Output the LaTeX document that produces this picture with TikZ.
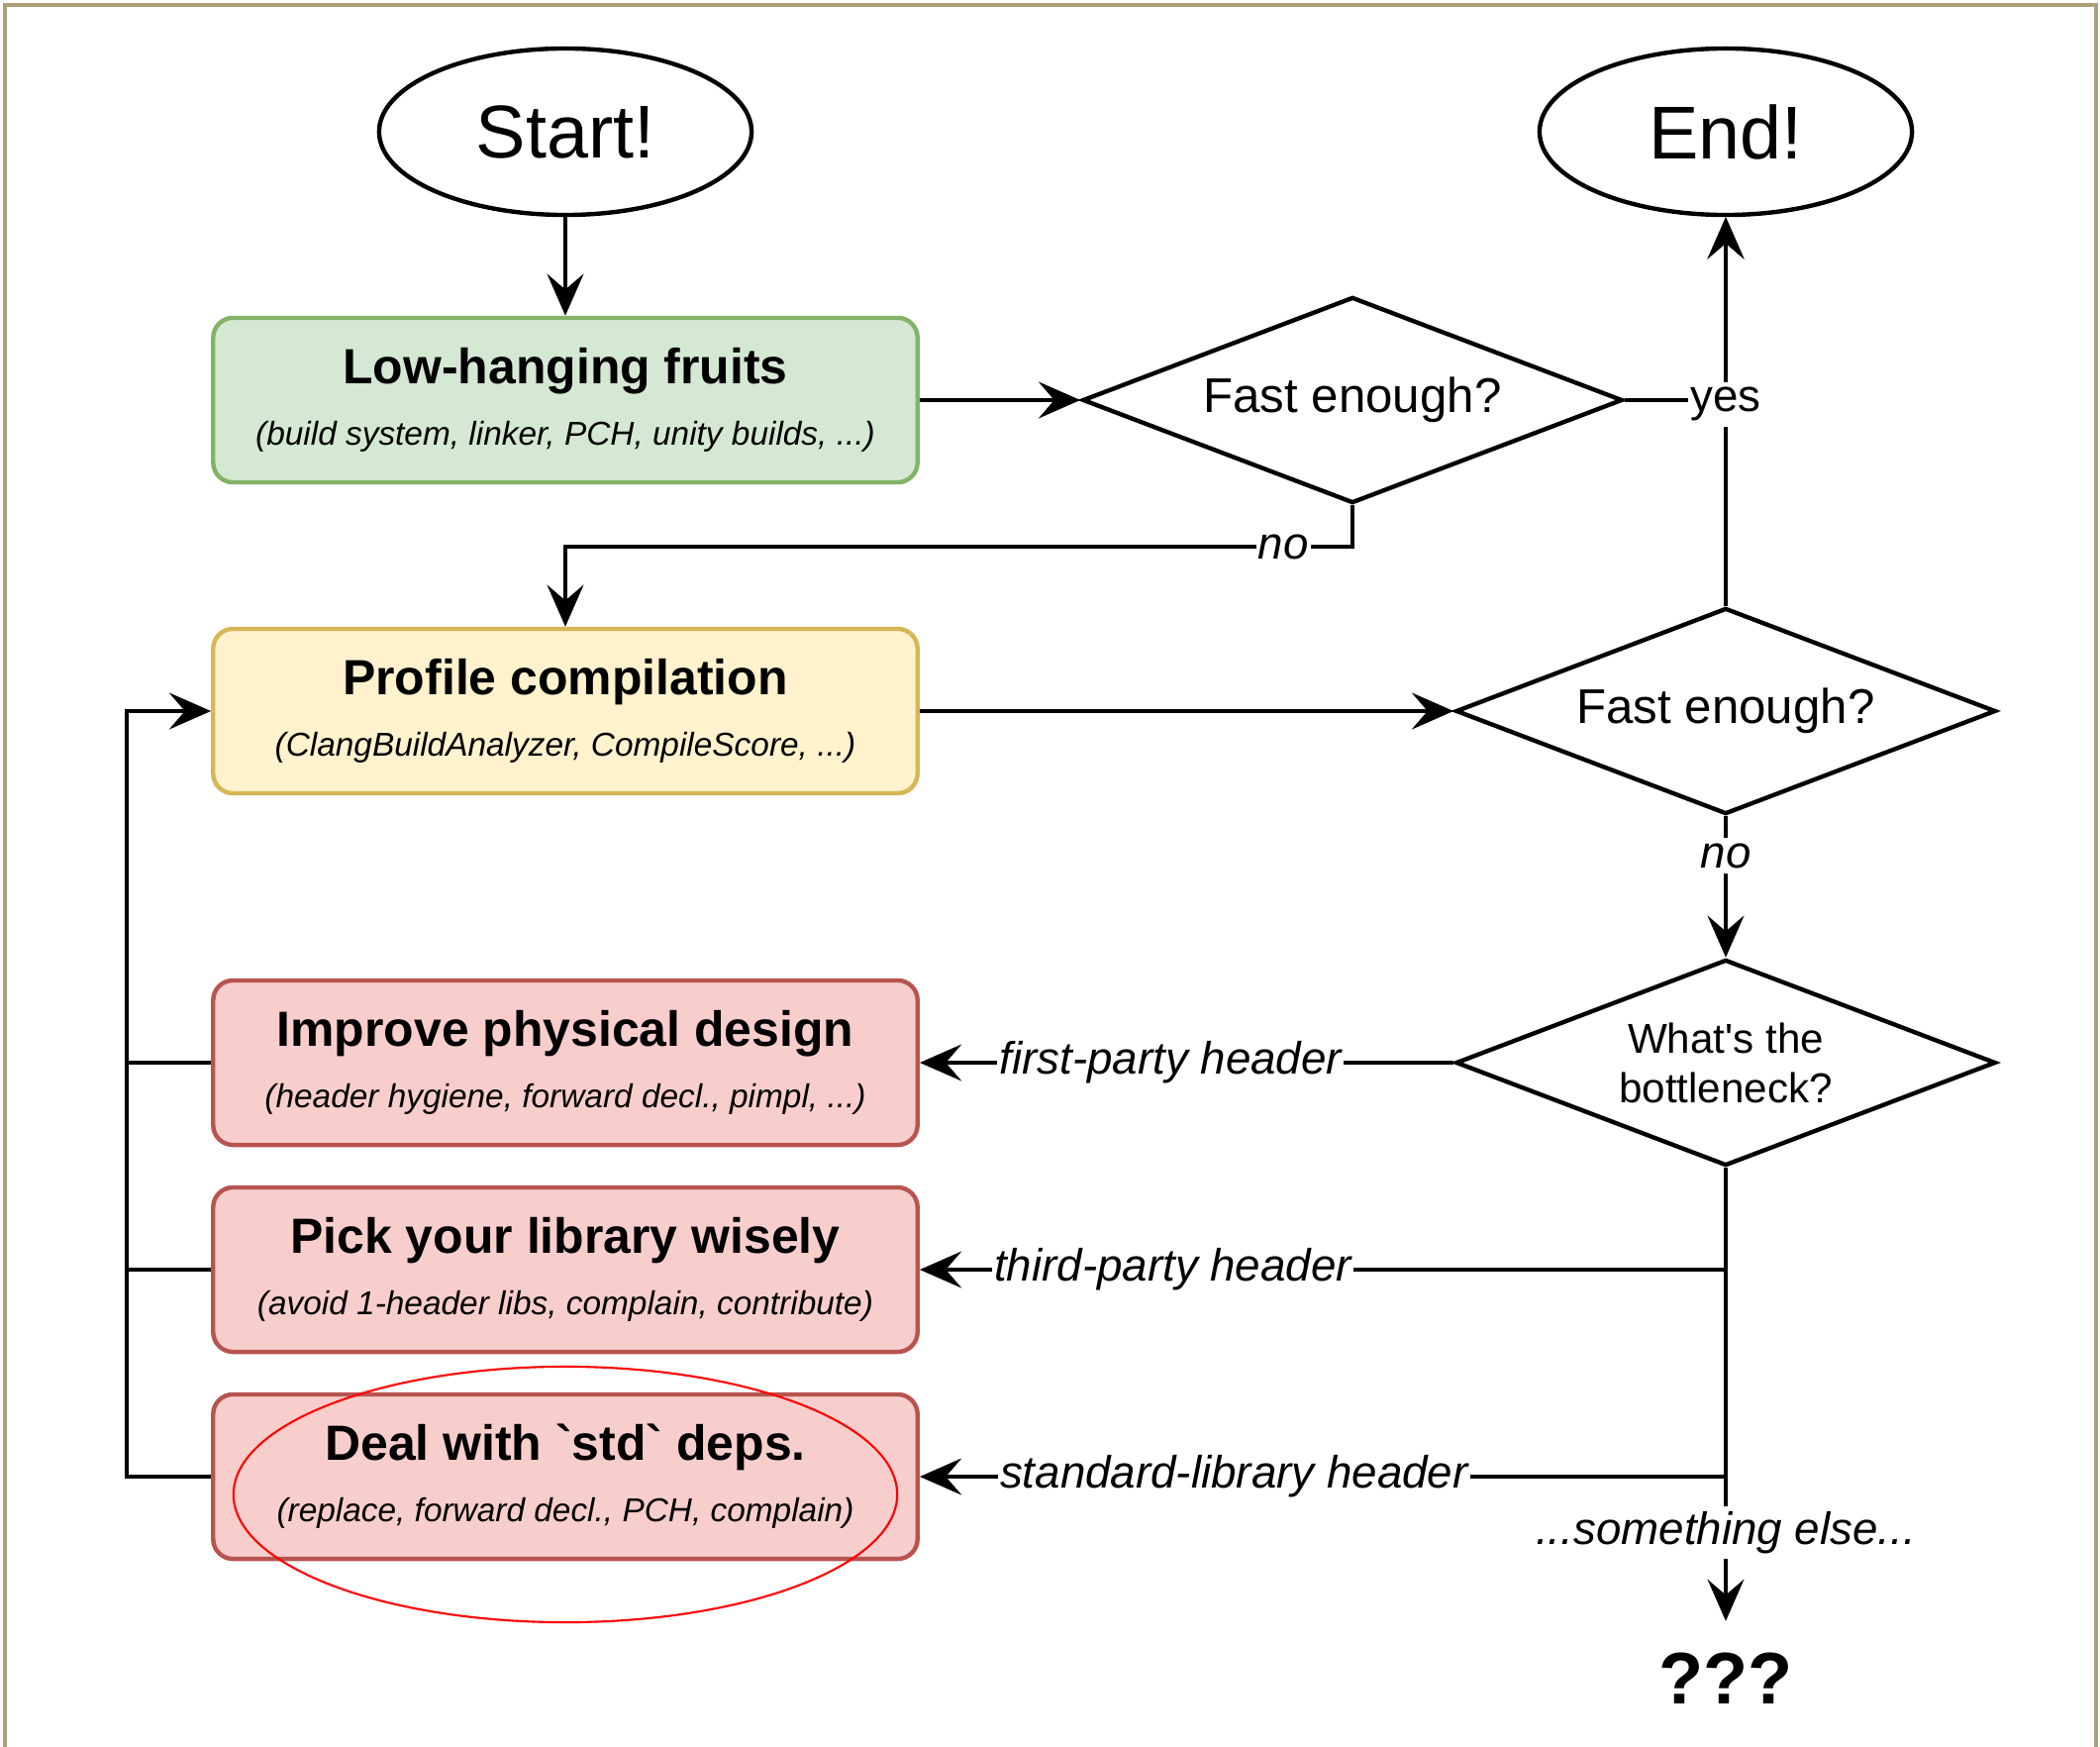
\documentclass[tikz,border=0pt]{standalone}
\usepackage{fontspec}
\setmainfont{Liberation Sans}
\usetikzlibrary{shapes.geometric,arrows.meta}

\definecolor{framecol}{HTML}{AFA07A}
\definecolor{greenfill}{HTML}{D5E8D4}
\definecolor{greenline}{HTML}{82B366}
\definecolor{yellowfill}{HTML}{FFF2CC}
\definecolor{yellowline}{HTML}{D6B656}
\definecolor{redfill}{HTML}{F8CECC}
\definecolor{redline}{HTML}{B85450}

% title and note lines inside the step boxes
\newcommand\steptitle[1]{{\bfseries #1}}
\newcommand\stepnote[1]{{\fontsize{9.5}{17.6}\selectfont\itshape #1}}

\begin{document}
\begin{tikzpicture}[x=0.01cm,y=-0.01cm,
  >={Stealth[length=12pt,width=10.5pt,inset=4.5pt]},
  terminal/.style={ellipse, draw, line width=1.25pt, minimum width=3.76cm,
    minimum height=1.68cm, font=\fontsize{21.5}{26}\selectfont},
  stepbox/.style={rounded corners=0.2cm, draw, line width=1.25pt,
    minimum width=7.11cm, minimum height=1.66cm, align=center,
    font=\fontsize{14.2}{17.6}\selectfont},
  greenstep/.style={stepbox, fill=greenfill, draw=greenline},
  yellowstep/.style={stepbox, fill=yellowfill, draw=yellowline},
  redstep/.style={stepbox, fill=redfill, draw=redline},
  decision/.style={diamond, draw, line width=1.25pt, minimum width=5.45cm,
    minimum height=2.08cm, shape aspect=2.6, inner sep=1pt, align=center,
    font=\fontsize{14}{17}\selectfont},
  edge/.style={line width=1.05pt, ->},
  plain/.style={line width=1.05pt},
  lbl/.style={fill=white, inner xsep=0.6pt, inner ysep=1.5pt,
    font=\fontsize{13}{15}\selectfont\itshape},
]
\useasboundingbox (0,0) rectangle (2121,1764);
\draw[draw=framecol, line width=1.15pt] (5,1800) -- (5,5) -- (2117,5) -- (2117,1800);

% terminals
\node[terminal] (start) at (571,133) {Start!};
\node[terminal] (finish) at (1743,133) {End!};

% steps
\node[greenstep] (lhf) at (571,404)
  {\steptitle{Low-hanging fruits}\\\stepnote{(build system, linker, PCH, unity builds, ...)}};
\node[yellowstep] (prof) at (571,718)
  {\steptitle{Profile compilation}\\\stepnote{(ClangBuildAnalyzer, CompileScore, ...)}};
\node[redstep] (phys) at (571,1073)
  {\steptitle{Improve physical design}\\\stepnote{(header hygiene, forward decl., pimpl, ...)}};
\node[redstep] (lib) at (571,1282)
  {\steptitle{Pick your library wisely}\\\stepnote{(avoid 1-header libs, complain, contribute)}};
\node[redstep] (std) at (571,1491)
  {\steptitle{Deal with \textasciigrave std\textasciigrave\ deps.}\\\stepnote{(replace, forward decl., PCH, complain)}};

% decisions
\node[decision] (fast1) at (1366,404) {Fast enough?};
\node[decision] (fast2) at (1743,718) {Fast enough?};
\node[decision, font=\fontsize{12}{14.2}\selectfont] (neck) at (1743,1073)
  {What\textquotesingle s the\\bottleneck?};

\node[font=\fontsize{21}{25}\selectfont\bfseries, inner xsep=0pt, inner ysep=9pt]
  (unknown) at (1743,1695) {???};

% connectors
\draw[edge] (start) -- (lhf);
\draw[edge] (lhf) -- (fast1);
\draw[edge] (fast2) -- (finish);
\draw[edge] (fast1.east) -| node[lbl, pos=0.5, yshift=-1.2pt, font=\fontsize{13}{15}\selectfont] {yes} (finish.south);
\draw[edge] (fast1.south) -- ++(0,42) -| node[lbl, pos=0.044] {no} (prof.north);
\draw[edge] (prof) -- (fast2);
\draw[edge] (fast2) -- node[lbl, pos=0.28] {no} (neck);
\draw[edge] (neck) -- node[lbl, pos=0.53] {first-party header} (phys);
\draw[edge] (neck.south) |- node[lbl, pos=0.843] {third-party header} (lib.east);
\draw[edge] (neck.south) |- node[lbl, pos=0.805] {standard-library header} (std.east);
\draw[edge] (neck.south) -- node[lbl, pos=0.804] {...something else...} (unknown.north);

% loop back to profiling
\draw[plain] (phys.west) -- ++(-85,0);
\draw[plain] (lib.west) -- ++(-85,0);
\draw[edge] (std.west) -- ++(-85,0) |- (prof.west);

% highlight
\draw[red, line width=0.6pt] (571,1509) ellipse [x radius=3.35cm, y radius=1.29cm];
\end{tikzpicture}
\end{document}
